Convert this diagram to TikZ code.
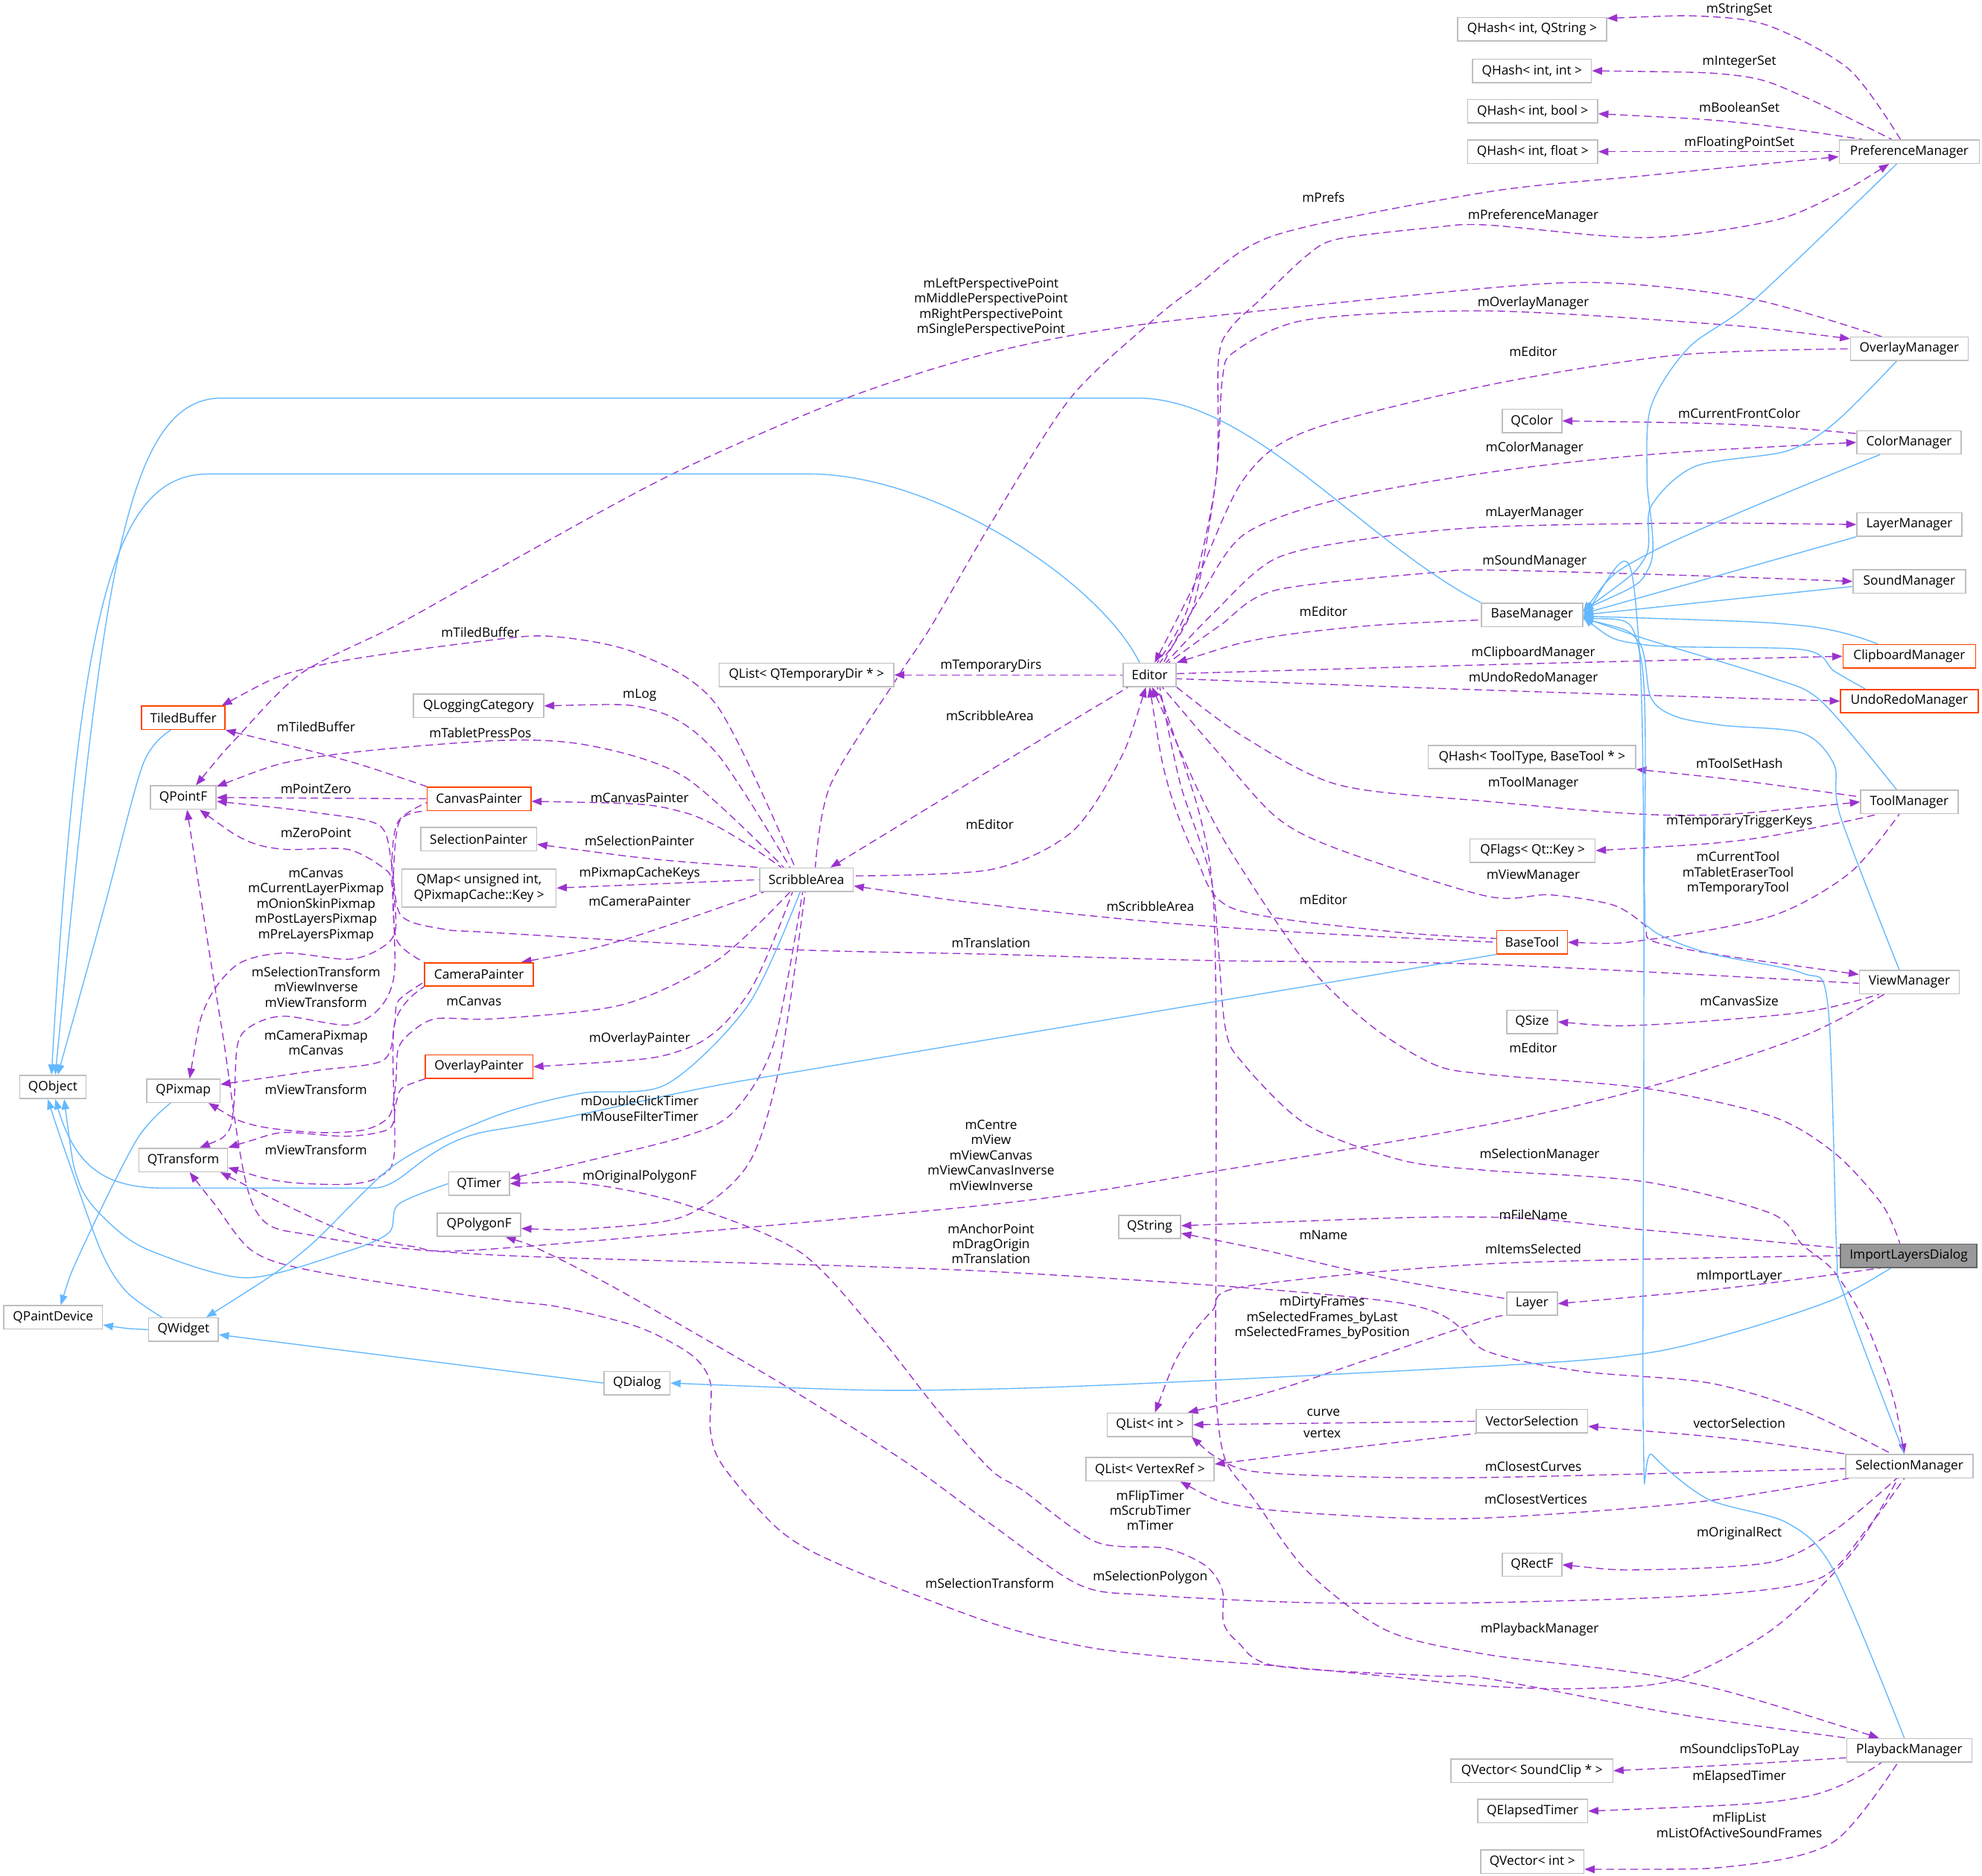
\documentclass[tikz,border=0pt]{standalone}
\usepackage{fontspec}
\setmainfont{Open Sans}
\usetikzlibrary{arrows.meta}
\pgfdeclarelayer{bg}
\pgfsetlayers{bg,main}
\definecolor{memc}{HTML}{9A32CD}
\definecolor{inhc}{HTML}{63B8FF}
\definecolor{bord}{HTML}{BFBFBF}
\definecolor{redb}{HTML}{FF4500}
\definecolor{dlgfill}{HTML}{999999}
\definecolor{dlgbord}{HTML}{666666}
\newcommand{\nf}{\fontsize{10.2}{12}\selectfont}
\begin{document}
\begin{tikzpicture}[x=1pt,y=-1pt,
  box/.style={draw=bord, line width=0.9pt, fill=white, minimum height=18.5pt, inner sep=0pt, font=\nf},
  redbox/.style={box, draw=redb},
  selbox/.style={box, draw=dlgbord, fill=dlgfill},
  lbl/.style={font=\nf, align=center, inner sep=0pt},
  mem/.style={draw=memc, line width=0.8pt, dash pattern=on 6pt off 3.5pt, {Triangle[length=8pt,width=6pt]}-},
  inh/.style={draw=inhc, line width=0.8pt, {Triangle[length=8pt,width=6pt]}-}
]
\useasboundingbox (0,0) rectangle (1568,1484);
\begin{pgfonlayer}{bg}
\fill[white] (0,0) rectangle (1568,1484);
\end{pgfonlayer}

% ---------------- nodes ----------------
\node[box, minimum width=118pt] (QHashStr) at (1212,23.2) {QHash< int, QString >};
\node[box, minimum width=94pt] (QHashInt) at (1212,56) {QHash< int, int >};
\node[box, minimum width=103pt] (QHashBool) at (1212.5,88) {QHash< int, bool >};
\node[box, minimum width=103pt] (QHashFloat) at (1212.5,120) {QHash< int, float >};
\node[box, minimum width=111pt] (PrefMgr) at (1510.5,120) {PreferenceManager};
\node[box, minimum width=93pt] (OverlayMgr) at (1510.5,276) {OverlayManager};
\node[box, minimum width=47pt] (QColor) at (1212,333) {QColor};
\node[box, minimum width=82.5pt] (ColorMgr) at (1510.25,350) {ColorManager};
\node[box, minimum width=83pt] (LayerMgr) at (1510.5,415) {LayerManager};
\node[box, minimum width=89pt] (SoundMgr) at (1510.5,460) {SoundManager};
\node[box, minimum width=80pt] (BaseMgr) at (1212,486.5) {BaseManager};
\node[redbox, minimum width=105pt] (ClipMgr) at (1510.5,519.25) {ClipboardManager};
\node[redbox, minimum width=109pt] (UndoMgr) at (1510.5,554.75) {UndoRedoManager};
\node[box, minimum width=164pt] (QHashTool) at (1212,599) {QHash< ToolType, BaseTool * >};
\node[box, minimum width=77pt] (ToolMgr) at (1510.5,634.5) {ToolManager};
\node[box, minimum width=99pt] (QFlags) at (1212.5,673) {QFlags< Qt::Key >};
\node[redbox, minimum width=56pt] (BaseTool) at (1212,745.5) {BaseTool};
\node[box, minimum width=79pt] (ViewMgr) at (1510.5,777) {ViewManager};
\node[box, minimum width=40pt] (QSize) at (1212,808.5) {QSize};
\node[selbox, minimum width=108pt] (ImportDlg) at (1510,993.5) {ImportLayersDialog};
\node[box, minimum width=40pt] (Layer) at (1212,1031.5) {Layer};
\node[box, minimum width=88pt] (VecSel) at (1212,1124.5) {VectorSelection};
\node[box, minimum width=101pt] (SelMgr) at (1510.5,1160) {SelectionManager};
\node[box, minimum width=47pt] (QRectF) at (1212,1238) {QRectF};
\node[box, minimum width=99pt] (PlayMgr) at (1510.5,1384.75) {PlaybackManager};
\node[box, minimum width=128pt] (QVecSound) at (1212,1401) {QVector< SoundClip * >};
\node[box, minimum width=87pt] (QElapsed) at (1212.5,1433) {QElapsedTimer};
\node[box, minimum width=81.5pt] (QVecInt) at (1212.25,1473) {QVector< int >};
\node[box, minimum width=42pt] (Editor) at (909.5,534) {Editor};
\node[box, minimum width=49pt] (QString) at (909.5,970.8) {QString};
\node[box, minimum width=67.5pt] (QListInt) at (909.75,1127.25) {QList< int >};
\node[box, minimum width=101.5pt] (QListVR) at (909.75,1162.5) {QList< VertexRef >};
\node[box, minimum width=138pt] (QListTmp) at (638,534) {QList< QTemporaryDir * >};
\node[box, minimum width=74pt] (Scribble) at (638,696) {ScribbleArea};
\node[box, minimum width=103pt] (QLogCat) at (378.5,558.5) {QLoggingCategory};
\node[redbox, minimum width=82pt] (CanvasP) at (379,632) {CanvasPainter};
\node[box, minimum width=91.5pt] (SelP) at (378.75,664) {SelectionPainter};
\node[box, minimum width=122pt, minimum height=30pt, align=center] (QMap) at (379,702.6) {QMap< unsigned int,\\QPixmapCache::Key >};
\node[redbox, minimum width=86pt] (CameraP) at (379,771) {CameraPainter};
\node[redbox, minimum width=85pt] (OverlayP) at (379,844) {OverlayPainter};
\node[box, minimum width=48pt] (QTimer) at (379,936.5) {QTimer};
\node[box, minimum width=66pt] (QPolygonF) at (379,969) {QPolygonF};
\node[box, minimum width=52pt] (QDialog) at (504,1094.3) {QDialog};
\node[redbox, minimum width=66pt] (TiledBuffer) at (145,568) {TiledBuffer};
\node[box, minimum width=52pt] (QPointF) at (145,631) {QPointF};
\node[box, minimum width=52.5pt] (QObject) at (41.75,860) {QObject};
\node[box, minimum width=58pt] (QPixmap) at (145,863) {QPixmap};
\node[box, minimum width=70pt] (QTransform) at (145,917.8) {QTransform};
\node[box, minimum width=78pt] (QPaintDevice) at (42,1042.25) {QPaintDevice};
\node[box, minimum width=55pt] (QWidget) at (145.15,1052) {QWidget};

% ---------------- labels ----------------
\node[lbl] (lStringSet) at (1376,8) {mStringSet};
\node[lbl] (lIntegerSet) at (1376,49) {mIntegerSet};
\node[lbl] (lBooleanSet) at (1376,85) {mBooleanSet};
\node[lbl] (lFloatSet) at (1376,113) {mFloatingPointSet};
\node[lbl] (lPrefs) at (1047,156) {mPrefs};
\node[lbl] (lPrefMgr) at (1213,171) {mPreferenceManager};
\node[lbl] (lPersp) at (784,243) {mLeftPerspectivePoint\\mMiddlePerspectivePoint\\mRightPerspectivePoint\\mSinglePerspectivePoint};
\node[lbl] (lOverlayMgr) at (1213,240) {mOverlayManager};
\node[lbl] (lEditorOv) at (1213,278) {mEditor};
\node[lbl] (lFrontColor) at (1376,327) {mCurrentFrontColor};
\node[lbl] (lColorMgr) at (1214,355) {mColorManager};
\node[lbl] (lLayerMgr) at (1214,406) {mLayerManager};
\node[lbl] (lSoundMgr) at (1214,444) {mSoundManager};
\node[lbl] (lEditorBM) at (1047,484) {mEditor};
\node[lbl] (lTiledSA) at (380,500) {mTiledBuffer};
\node[lbl] (lTmpDirs) at (784,527) {mTemporaryDirs};
\node[lbl] (lClip) at (1213,517) {mClipboardManager};
\node[lbl] (lUndo) at (1213,537) {mUndoRedoManager};
\node[lbl] (lLog) at (506,550) {mLog};
\node[lbl] (lScribEd) at (783,566) {mScribbleArea};
\node[lbl] (lTiledCP) at (250,575) {mTiledBuffer};
\node[lbl] (lTablet) at (380,580) {mTabletPressPos};
\node[lbl] (lToolSet) at (1376,604) {mToolSetHash};
\node[lbl] (lToolMgr) at (1213,620) {mToolManager};
\node[lbl] (lPointZero) at (250,624) {mPointZero};
\node[lbl] (lCanvasP) at (506,631) {mCanvasPainter};
\node[lbl] (lTrigger) at (1376,650) {mTemporaryTriggerKeys};
\node[lbl] (lEditorSA) at (783,652) {mEditor};
\node[lbl] (lZeroPoint) at (250,659) {mZeroPoint};
\node[lbl] (lSelP) at (506,665) {mSelectionPainter};
\node[lbl] (lCurTool) at (1375,691) {mCurrentTool\\mTabletEraserTool\\mTemporaryTool};
\node[lbl] (lPixCache) at (506,691) {mPixmapCacheKeys};
\node[lbl] (lViewMgr) at (1213,693) {mViewManager};
\node[lbl] (lCanvasPix) at (250,716) {mCanvas\\mCurrentLayerPixmap\\mOnionSkinPixmap\\mPostLayersPixmap\\mPreLayersPixmap};
\node[lbl] (lEditorBT) at (1047,712) {mEditor};
\node[lbl] (lCameraP) at (506,713) {mCameraPainter};
\node[lbl] (lScribBT) at (910,717) {mScribbleArea};
\node[lbl] (lTransVM) at (784,746) {mTranslation};
\node[lbl] (lCanvasTr) at (250,781) {mSelectionTransform\\mViewInverse\\mViewTransform};
\node[lbl] (lCanvasSA) at (375,792) {mCanvas};
\node[lbl] (lCanvasSize) at (1376,792) {mCanvasSize};
\node[lbl] (lCamPix) at (250,825) {mCameraPixmap\\mCanvas};
\node[lbl] (lOverlayP) at (506,822) {mOverlayPainter};
\node[lbl] (lEditorID) at (1213,829) {mEditor};
\node[lbl] (lViewTrOP) at (250,862) {mViewTransform};
\node[lbl] (lTimersSA) at (506,877) {mDoubleClickTimer\\mMouseFilterTimer};
\node[lbl] (lCentre) at (784,914) {mCentre\\mView\\mViewCanvas\\mViewCanvasInverse\\mViewInverse};
\node[lbl] (lViewTrCP) at (250,910) {mViewTransform};
\node[lbl] (lSelMgr) at (1218,914) {mSelectionManager};
\node[lbl] (lOrigPoly) at (506,931) {mOriginalPolygonF};
\node[lbl] (lFileName) at (1213,961) {mFileName};
\node[lbl] (lName) at (1047,977) {mName};
\node[lbl] (lAnchor) at (784,984) {mAnchorPoint\\mDragOrigin\\mTranslation};
\node[lbl] (lItems) at (1213,988) {mItemsSelected};
\node[lbl] (lImport) at (1376,1010) {mImportLayer};
\node[lbl] (lDirty) at (1046,1043) {mDirtyFrames\\mSelectedFrames\_byLast\\mSelectedFrames\_byPosition};
\node[lbl] (lCurve) at (1047,1118) {curve};
\node[lbl] (lVecSel) at (1376,1126) {vectorSelection};
\node[lbl] (lVertex) at (1046,1134) {vertex};
\node[lbl] (lCurves) at (1213,1160) {mClosestCurves};
\node[lbl] (lVertices) at (1215,1186) {mClosestVertices};
\node[lbl] (lTimersPB) at (910,1195) {mFlipTimer\\mScrubTimer\\mTimer};
\node[lbl] (lOrigRect) at (1376,1213) {mOriginalRect};
\node[lbl] (lSelPoly) at (910,1248) {mSelectionPolygon};
\node[lbl] (lSelTr) at (783,1253) {mSelectionTransform};
\node[lbl] (lPlayMgr) at (1218,1289) {mPlaybackManager};
\node[lbl] (lSoundclips) at (1376,1385) {mSoundclipsToPLay};
\node[lbl] (lElapsed) at (1376,1406) {mElapsedTimer};
\node[lbl] (lFlipList) at (1376,1444) {mFlipList\\mListOfActiveSoundFrames};

% ---------------- edges ----------------
\begin{pgfonlayer}{bg}
% usage (dashed purple), arrow at the used type
\draw[mem] plot[smooth,tension=0.5] coordinates {([yshift=-1pt]QHashStr.north east) (1350,13) (1401,21) (1463,55) ([xshift=-7pt]PrefMgr.north)};
\draw[mem] plot[smooth,tension=0.5] coordinates {(QHashInt.east) (1376,60) (1426,76) ([xshift=-14pt]PrefMgr.north)};
\draw[mem] plot[smooth,tension=0.5] coordinates {([yshift=-2pt]QHashBool.east) (1376,97) ([xshift=-37pt]PrefMgr.north)};
\draw[mem] (QHashFloat.east) -- (PrefMgr.west);
\draw[mem] plot[smooth,tension=0.5] coordinates {([yshift=-4pt]PrefMgr.west) (1301,139) (1176,152) (1009,186) (946,227) (909,256) (846,316) (784,414) (737,495) (710,536) (657,621) ([xshift=7pt]Scribble.north)};
\draw[mem] plot[smooth,tension=0.5] coordinates {([xshift=-16pt]PrefMgr.south) (1451,155) (1401,175) (1301,188) (1176,178) (1134,180) (1059,189) (1034,202) (997,237) (974,259) (964,284) (962,379) (940,480) ([xshift=6pt]Editor.north)};
\draw[mem] plot[smooth,tension=0.5] coordinates {([xshift=10pt]QPointF.north) (188,583) (238,533) (313,495) (392,451) (530,376) (667,316) (784,279) (909,256) (1176,228) (1276,224) (1388,237) ([xshift=-22pt]OverlayMgr.north)};
\draw[mem] plot[smooth,tension=0.5] coordinates {([yshift=8pt]OverlayMgr.west) (1351,256) (1176,246) (1034,253) (977,278) (967,300) (962,379) (944,480) ([xshift=8pt]Editor.north)};
\draw[mem] plot[smooth,tension=0.5] coordinates {([xshift=4pt]Editor.north) (947,458) (984,379) (1034,341) (1176,305) (1326,281) (OverlayMgr.west)};
\draw[mem] plot[smooth,tension=0.5] coordinates {(QColor.east) (1376,336) ([yshift=7pt]ColorMgr.west)};
\draw[mem] plot[smooth,tension=0.5] coordinates {(ColorMgr.west) (1301,360) (1176,374) (1059,395) (984,423) (948,475) ([xshift=11pt]Editor.north)};
\draw[mem] plot[smooth,tension=0.5] coordinates {(LayerMgr.west) (1326,414) (1176,417) (1084,426) (1009,442) (960,485) ([xshift=13pt]Editor.north)};
\draw[mem] plot[smooth,tension=0.5] coordinates {(SoundMgr.west) (1326,455) (1176,451) (1134,453) (1009,467) (965,495) ([xshift=15pt]Editor.north)};
\draw[mem] plot[smooth,tension=0.5] coordinates {(Editor.north east) (1000,505) (1084,495) ([yshift=-4pt]BaseMgr.west)};
\draw[mem] plot[smooth,tension=0.5] coordinates {(ClipMgr.west) (1176,526) ([yshift=1pt]Editor.east)};
\draw[mem] plot[smooth,tension=0.5] coordinates {(UndoMgr.west) (1176,546) ([yshift=-3pt]Editor.east)};
\draw[mem] (QListTmp.east) -- (Editor.west);
\draw[mem] plot[smooth,tension=0.5] coordinates {([xshift=19pt]Scribble.north) (784,609) ([xshift=-17pt]Editor.south)};
\draw[mem] plot[smooth,tension=0.5] coordinates {([xshift=-3pt]Editor.south) (884,605) (847,659) (784,688) ([yshift=3pt]Scribble.east)};
\draw[mem] plot[smooth,tension=0.5] coordinates {(ToolMgr.west) (1326,645) (1176,634) (1059,621) (984,583) (Editor.south east)};
\draw[mem] plot[smooth,tension=0.5] coordinates {([yshift=6pt]ViewMgr.west) (1351,754) (1306,744) (1301,732) (1276,716) (1226,708) (1176,709) (1059,672) (1009,646) (959,590) ([xshift=10pt]Editor.south)};
\draw[mem] plot[smooth,tension=0.5] coordinates {([xshift=-4pt]SelMgr.north) (1496,1100) (1476,1047) (1451,1006) (1426,985) (1401,960) (1301,935) (1176,926) (1109,918) (1034,890) (984,842) (969,811) (959,700) (934,621) ([xshift=8pt]Editor.south)};
\draw[mem] plot[smooth,tension=0.5] coordinates {([xshift=2pt]Editor.south) (955,640) (984,690) (1034,763) (1084,811) (1134,842) (1176,850) (1301,861) (1401,883) (1451,912) (1489,953) ([xshift=-7pt]ImportDlg.north)};
\draw[mem] plot[smooth,tension=0.5] coordinates {([xshift=-24pt]PlayMgr.north) (1326,1329) (1176,1309) (1097,1290) (1034,1243) (992,1186) (969,1154) (962,1100) (962,990) (962,800) (959,700) (947,637) ([xshift=6pt]Editor.south)};
\draw[mem] plot[smooth,tension=0.5] coordinates {([yshift=-5pt]Scribble.east) (784,716) (909,729) (1034,738) (BaseTool.west)};
\draw[mem] plot[smooth,tension=0.5] coordinates {(Editor.south) (924,621) (946,678) (976,719) (1100,737) ([yshift=3pt]BaseTool.west)};
\draw[mem] plot[smooth,tension=0.5] coordinates {(BaseTool.east) (1300,744) (1401,725) (1463,691) ([xshift=-8pt]ToolMgr.south)};
\draw[mem] plot[smooth,tension=0.5] coordinates {(QHashTool.south east) (1380,618) ([yshift=4pt]ToolMgr.west)};
\draw[mem] plot[smooth,tension=0.5] coordinates {(QFlags.east) (1376,665) (1450,652) ([xshift=-25pt]ToolMgr.south)};
\draw[mem] plot[smooth,tension=0.5] coordinates {(QSize.east) (1301,811) (1426,801) ([xshift=-24pt]ViewMgr.south)};
\draw[mem] plot[smooth,tension=0.5] coordinates {([yshift=-3pt]QPointF.east) (250,643) (300,653) (310,684) (317,724) (350,735) (392,738) (617,751) (784,755) (959,760) (1176,763) ([yshift=-1pt]ViewMgr.west)};
\draw[mem] plot[smooth,tension=0.5] coordinates {([xshift=-6pt]QTransform.south east) (225,953) (275,975) (325,986) (392,988) (784,953) (959,927) (1176,890) (1301,861) (1426,820) ([xshift=-20pt]ViewMgr.south)};
\draw[mem] plot[smooth,tension=0.5] coordinates {([xshift=3pt]QPointF.south) (175,811) (200,953) (250,978) (392,993) (784,1006) (1108,1031) (1176,1069) (1251,1085) (1351,1094) (1426,1116) ([xshift=-14pt]SelMgr.north)};
\draw[mem] plot[smooth,tension=0.5] coordinates {([xshift=5pt]QTransform.south) (170,953) (200,990) (250,1006) (392,1028) (442,1034) (505,1050) (547,1072) (562,1094) (562,1132) (572,1160) (617,1211) (667,1239) (784,1284) (859,1303) (934,1312) (1009,1318) (1084,1325) (1176,1334) (1251,1336) (1326,1329) (1401,1290) (1464,1230) ([xshift=-9pt]SelMgr.south)};
\draw[mem] plot[smooth,tension=0.5] coordinates {([xshift=21pt]QPolygonF.south) (430,990) (492,1022) (617,1094) (717,1157) (784,1206) (854,1254) (909,1262) (1034,1268) (1176,1268) (1351,1262) (1439,1249) (1476,1211) ([xshift=-4pt]SelMgr.south)};
\draw[mem] plot[smooth,tension=0.5] coordinates {(QRectF.east) (1300,1242) (1401,1236) (1451,1211) ([xshift=-10pt]SelMgr.south)};
\draw[mem] plot[smooth,tension=0.5] coordinates {([yshift=-4pt]VecSel.east) (1376,1139) (SelMgr.north west)};
\draw[mem] plot[smooth,tension=0.5] coordinates {([xshift=33pt]QListInt.south) (964,1154) (990,1164) (1059,1168) (1176,1169) ([yshift=-2pt]SelMgr.west)};
\draw[mem] plot[smooth,tension=0.5] coordinates {([xshift=24pt]QListVR.south) (984,1192) (1084,1200) (1176,1201) (1338,1189) ([xshift=3pt]SelMgr.south west)};
\draw[mem] (QListInt.east) -- (VecSel.west);
\draw[mem] plot[smooth,tension=0.5] coordinates {([yshift=4pt]QListVR.east) (1046,1148) (VecSel.south west)};
\draw[mem] plot[smooth,tension=0.5] coordinates {([yshift=-5pt]QString.east) (1004,990) (1100,1012) ([yshift=4pt]Layer.west)};
\draw[mem] plot[smooth,tension=0.5] coordinates {([yshift=1pt]QString.east) (1176,963) (1300,973) ([yshift=6pt]ImportDlg.west)};
\draw[mem] plot[smooth,tension=0.5] coordinates {([xshift=4pt]QListInt.north) (934,1069) (959,1037) (984,1018) (1176,1000) (ImportDlg.west)};
\draw[mem] plot[smooth,tension=0.5] coordinates {(Layer.east) (1376,1018) ([xshift=-22pt]ImportDlg.south)};
\draw[mem] plot[smooth,tension=0.5] coordinates {([xshift=30pt]QListInt.north) (1009,1100) (1084,1075) (1176,1044) (Layer.south west)};
\draw[mem] plot[smooth,tension=0.5] coordinates {(QVecSound.east) (1376,1396) ([yshift=-6pt]PlayMgr.west)};
\draw[mem] plot[smooth,tension=0.5] coordinates {(QElapsed.east) (1426,1422) ([xshift=-22pt]PlayMgr.south)};
\draw[mem] plot[smooth,tension=0.5] coordinates {([yshift=-6pt]QVecInt.east) (1376,1476) (1451,1457) ([xshift=-9pt]PlayMgr.south)};
\draw[mem] plot[smooth,tension=0.5] coordinates {(QTimer.east) (467,937) (542,953) (632,990) (692,1053) (742,1116) (784,1163) (809,1179) (867,1220) (922,1225) (954,1239) (967,1258) (968,1284) (979,1299) (1009,1318) (1134,1326) (1176,1328) (1326,1356) (PlayMgr.north west)};
\draw[mem] plot[smooth,tension=0.5] coordinates {([yshift=4pt]QTimer.east) (467,918) (542,899) (580,880) (612,826) ([xshift=-3pt]Scribble.south)};
\draw[mem] plot[smooth,tension=0.5] coordinates {([yshift=-3pt]QPolygonF.east) (467,972) (542,962) (592,921) (617,842) ([xshift=-1pt]Scribble.south)};
\draw[mem] plot[smooth,tension=0.5] coordinates {(OverlayP.east) (542,830) (592,786) ([xshift=-11pt]Scribble.south)};
\draw[mem] plot[smooth,tension=0.5] coordinates {([xshift=20pt]QPixmap.south) (200,890) (250,896) (288,894) (308,883) (313,858) (315,830) (325,817) (345,806) (392,806) (492,795) (567,760) ([xshift=-13pt]Scribble.south)};
\draw[mem] plot[smooth,tension=0.5] coordinates {([xshift=-10pt]CameraP.north east) (492,744) ([xshift=4pt]Scribble.south west)};
\draw[mem] (QMap.east) -- (Scribble.west);
\draw[mem] plot[smooth,tension=0.5] coordinates {([yshift=-4pt]SelP.east) (520,680) (Scribble.north west)};
\draw[mem] plot[smooth,tension=0.5] coordinates {([yshift=-2pt]CanvasP.east) (542,643) ([xshift=-20pt]Scribble.north)};
\draw[mem] plot[smooth,tension=0.5] coordinates {([yshift=-1pt]QPointF.north east) (250,599) (392,586) (467,590) (542,615) ([xshift=-18pt]Scribble.north)};
\draw[mem] plot[smooth,tension=0.5] coordinates {(QLogCat.east) (517,562) (567,596) ([xshift=-13pt]Scribble.north)};
\draw[mem] plot[smooth,tension=0.5] coordinates {([xshift=-3pt]TiledBuffer.north east) (250,527) (392,506) (442,504) (504,517) (567,558) ([xshift=-9pt]Scribble.north)};
\draw[mem] plot[smooth,tension=0.5] coordinates {(TiledBuffer.south east) (275,602) (CanvasP.north west)};
\draw[mem] (QPointF.east) -- (CanvasP.west);
\draw[mem] plot[smooth,tension=0.5] coordinates {([xshift=13pt]QPointF.south) (195,665) (225,672) (275,672) (305,688) (310,700) (314,744) (CameraP.north west)};
\draw[mem] plot[smooth,tension=0.5] coordinates {([xshift=5pt]QPixmap.north) (163,795) (188,763) (225,754) (275,759) (300,751) (313,735) (310,684) (315,650) ([yshift=-3pt]CanvasP.west)};
\draw[mem] plot[smooth,tension=0.5] coordinates {([xshift=13pt]QTransform.north) (180,896) (185,874) (188,826) (200,811) (225,804) (275,811) (300,798) (312,770) (311,700) (316,650) (CanvasP.south west)};
\draw[mem] plot[smooth,tension=0.5] coordinates {([yshift=5pt]QPixmap.east) (250,847) (303,839) (312,811) (315,792) ([yshift=-6pt]CameraP.west)};
\draw[mem] plot[smooth,tension=0.5] coordinates {(QTransform.north east) (200,902) (225,896) (275,899) (308,893) (313,874) (318,861) (OverlayP.south west)};
\draw[mem] plot[smooth,tension=0.5] coordinates {([yshift=-6pt]QTransform.east) (225,935) (275,937) (300,931) (312,912) (312,811) (CameraP.south west)};

% inheritance (solid blue), arrow at the base class
\draw[inh] ([xshift=2pt]QObject.north) .. controls (80,480) and (95,315) .. (175,315) -- (900,315) .. controls (990,315) and (1080,430) .. (BaseMgr.north west);
\draw[inh] ([xshift=-1pt]QObject.north) .. controls (62,480) and (90,375) .. (165,375) -- (640,375) .. controls (740,375) and (870,460) .. ([xshift=-8pt]Editor.north);
\draw[inh] plot[smooth,tension=0.5] coordinates {([xshift=4pt]QObject.north) (83,716) (113,605) ([xshift=-10pt]TiledBuffer.south)};
\draw[inh] ([xshift=2pt]QObject.south) .. controls (60,925) and (85,940) .. (130,940) -- (295,940) .. controls (322,940) and (335,902) .. (392,894) .. controls (480,880) and (520,866) .. (600,853) -- (BaseTool.south west);
\draw[inh] plot[smooth,tension=0.5] coordinates {([xshift=-4pt]QObject.south) (53,915) (80,990) (100,1022) ([xshift=-17pt]QWidget.north)};
\draw[inh] plot[smooth,tension=0.5] coordinates {([xshift=9pt]QObject.south) (63,937) (88,969) (120,990) (195,1011) (275,990) (308,975) (315,953) (QTimer.west)};
\draw[inh] plot[smooth,tension=0.5] coordinates {([xshift=18pt]QWidget.north) (240,990) (313,921) (392,883) (460,865) (527,858) (592,795) ([xshift=-5pt]Scribble.south)};
\draw[inh] ([yshift=-4pt]QWidget.east) -- (QDialog.west);
\draw[inh] plot[smooth,tension=0.5] coordinates {([yshift=-6pt]QPaintDevice.east) (100,1051) (QWidget.west)};
\draw[inh] plot[smooth,tension=0.5] coordinates {([xshift=6pt]QPaintDevice.north) (64,990) (108,902) ([xshift=-10pt]QPixmap.south)};
\draw[inh] plot[smooth,tension=0.5] coordinates {(QDialog.east) (784,1099) (1176,1081) (1300,1071) (1376,1053) (1451,1028) ([xshift=-14pt]ImportDlg.south)};
\draw[inh] plot[smooth,tension=0.5] coordinates {([yshift=4pt]BaseMgr.east) (1305,448) (1303,379) (1306,322) (1336,275) (1388,237) ([xshift=-10pt]PrefMgr.south)};
\draw[inh] plot[smooth,tension=0.5] coordinates {([yshift=3pt]BaseMgr.east) (1301,442) (1306,401) (1341,369) (1413,357) (1451,335) ([xshift=-10pt]OverlayMgr.south)};
\draw[inh] plot[smooth,tension=0.5] coordinates {([yshift=2pt]BaseMgr.east) (1308,436) ([xshift=-23pt]ColorMgr.south)};
\draw[inh] ([yshift=1pt]BaseMgr.east) -- (LayerMgr.south west);
\draw[inh] (BaseMgr.east) -- ([yshift=-4pt]SoundMgr.west);
\draw[inh] plot[smooth,tension=0.5] coordinates {([yshift=-1pt]BaseMgr.east) (1426,495) ([xshift=-25pt]ClipMgr.north)};
\draw[inh] plot[smooth,tension=0.5] coordinates {([yshift=-2pt]BaseMgr.east) (1300,510) (1426,514) (1451,531) ([xshift=-35pt]UndoMgr.north)};
\draw[inh] plot[smooth,tension=0.5] coordinates {([yshift=-2pt]BaseMgr.east) (1300,505) (1401,536) (1441,555) ([xshift=-10pt]ToolMgr.north)};
\draw[inh] plot[smooth,tension=0.5] coordinates {([yshift=-3pt]BaseMgr.east) (1296,507) (1306,552) (1326,567) (1364,574) (1426,580) (1451,605) (1456,646) ([xshift=-8pt]ViewMgr.north)};
\draw[inh] plot[smooth,tension=0.5] coordinates {([yshift=-3pt]BaseMgr.east) (1298,520) (1301,709) (1306,735) (1351,754) (1426,770) (1446,795) (1453,990) (1458,1022) ([xshift=-4pt]SelMgr.north)};
\draw[inh] plot[smooth,tension=0.5] coordinates {([yshift=-4pt]BaseMgr.east) (1297,515) (1300,1130) (1307,1151) (1351,1186) (1414,1205) (1451,1243) ([xshift=-4pt]PlayMgr.north)};
\end{pgfonlayer}
\end{tikzpicture}
\end{document}
